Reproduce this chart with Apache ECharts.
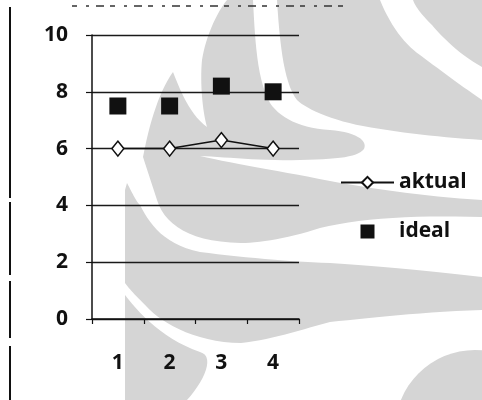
<!DOCTYPE html>
<html>
<head>
<meta charset="utf-8">
<script src="https://cdn.jsdelivr.net/npm/echarts@6/dist/echarts.min.js"></script>
<style>
  html, body { margin: 0; padding: 0; background: #ffffff; }
  #chart { width: 482px; height: 400px; }
</style>
</head>
<body>
<div id="chart"></div>
<script>
// Chart data
const categories = ['1', '2', '3', '4'];
const aktual = [6.0, 6.0, 6.3, 6.0];
const ideal = [7.5, 7.5, 8.2, 8.0];
const yTicks = [0, 2, 4, 6, 8, 10];

const FONT = "'Open Sans', 'DejaVu Sans', sans-serif";
const INK = '#111111';
const SHADE = '#d5d5d5';

// Turn a path description (start point + L / C segments) into polygon points
function outline(start, segs) {
  const pts = [start.slice()];
  let cur = start.slice();
  segs.forEach(s => {
    if (s[0] === 'L') {
      cur = [s[1], s[2]];
      pts.push(cur);
    } else {
      const [, x1, y1, x2, y2, x, y] = s;
      for (let i = 1; i <= 14; i++) {
        const t = i / 14, u = 1 - t;
        pts.push([
          u * u * u * cur[0] + 3 * u * u * t * x1 + 3 * u * t * t * x2 + t * t * t * x,
          u * u * u * cur[1] + 3 * u * u * t * y1 + 3 * u * t * t * y2 + t * t * t * y
        ]);
      }
      cur = [x, y];
    }
  });
  return pts;
}

// Faint background emblem behind the plot
const emblem = [
  // upper body, pointed tip and the band running under the legend
  outline([227, 0], [
    ['L', 253, 0],
    ['C', 255, 40, 257, 80, 270, 103],
    ['C', 280, 118, 300, 128, 330, 130],
    ['C', 355, 132, 368, 140, 364, 149],
    ['C', 358, 157, 340, 159, 300, 160],
    ['C', 260, 161, 225, 157, 200, 156],
    ['C', 230, 163, 280, 171, 330, 181],
    ['C', 380, 190, 430, 197, 482, 200],
    ['L', 482, 217],
    ['C', 420, 215, 360, 218, 320, 228],
    ['C', 290, 238, 260, 243, 241, 243],
    ['C', 190, 242, 165, 225, 157, 200],
    ['L', 143, 157],
    ['C', 150, 120, 160, 90, 173, 72],
    ['C', 180, 90, 190, 115, 207, 127],
    ['C', 202, 110, 200, 80, 202, 60],
    ['C', 205, 40, 215, 15, 227, 0]
  ]),
  // middle arc
  outline([277, 0], [
    ['L', 380, 0],
    ['C', 390, 25, 405, 45, 420, 55],
    ['C', 440, 70, 460, 85, 482, 100],
    ['L', 482, 140],
    ['C', 440, 137, 400, 133, 363, 126],
    ['C', 330, 120, 305, 108, 297, 100],
    ['C', 285, 85, 280, 50, 277, 0]
  ]),
  // outer arc in the corner
  outline([413, 0], [
    ['L', 482, 0],
    ['L', 482, 67],
    ['C', 460, 55, 442, 37, 432, 25],
    ['C', 422, 15, 416, 8, 413, 0]
  ]),
  // lower wave
  outline([127, 183], [
    ['C', 132, 192, 135, 200, 140, 205],
    ['C', 150, 225, 165, 245, 200, 252],
    ['C', 240, 257, 290, 262, 330, 263],
    ['C', 400, 268, 440, 272, 482, 277],
    ['L', 482, 310],
    ['C', 420, 312, 370, 318, 330, 322],
    ['C', 300, 330, 270, 340, 241, 343],
    ['C', 200, 343, 165, 325, 150, 310],
    ['C', 138, 298, 130, 290, 125, 283],
    ['L', 125, 190]
  ]),
  // bottom left foot
  outline([125, 295], [
    ['C', 140, 315, 165, 340, 200, 352],
    ['C', 215, 356, 205, 380, 187, 400],
    ['L', 125, 400]
  ])
];

const graphics = emblem.map(pts => ({
  type: 'polygon',
  z: -10,
  silent: true,
  shape: { points: pts },
  style: { fill: SHADE }
}));
graphics.push({
  type: 'circle', z: -10, silent: true,
  shape: { cx: 475, cy: 430, r: 80 },
  style: { fill: SHADE }
});
// page border on the left and the clipped text line at the top
[[7, 198], [202, 275], [281, 338], [346, 400]].forEach(([a, b]) => {
  graphics.push({
    type: 'line', z: 5, silent: true,
    shape: { x1: 10, y1: a, x2: 10, y2: b },
    style: { stroke: INK, lineWidth: 2 }
  });
});
graphics.push({
  type: 'line', z: 5, silent: true,
  shape: { x1: 72, y1: 6, x2: 352, y2: 6 },
  style: { stroke: '#333', lineWidth: 1.5, lineDash: [5, 9, 3, 7, 8, 6] }
});

const chart = echarts.init(document.getElementById('chart'), null, { renderer: 'canvas' });
chart.setOption({
  backgroundColor: '#ffffff',
  animation: false,
  graphic: graphics,
  grid: {
    left: 92, top: 35, right: 183, bottom: 81,
    containLabel: false, outerBoundsMode: 'none'
  },
  legend: {
    orient: 'vertical',
    left: 340, top: 172, padding: 0,
    itemWidth: 53, itemHeight: 14, itemGap: 28,
    textStyle: { fontFamily: FONT, fontSize: 21, fontWeight: 'bold', color: INK, lineHeight: 20 },
    data: [
      { name: 'aktual' },
      { name: 'ideal', icon: 'path://M0 0H10V10H0Z' }
    ]
  },
  xAxis: {
    type: 'category',
    data: categories,
    boundaryGap: true,
    axisLine: { lineStyle: { color: INK, width: 1.5 } },
    axisTick: { show: true, length: 5, lineStyle: { color: INK, width: 1.2 } },
    axisLabel: { fontFamily: FONT, fontSize: 21, fontWeight: 'bold', color: INK, margin: 34 },
    splitLine: { show: false }
  },
  yAxis: {
    type: 'value',
    min: yTicks[0], max: yTicks[yTicks.length - 1],
    interval: yTicks[1] - yTicks[0],
    axisLine: { show: true, lineStyle: { color: INK, width: 1.5 } },
    axisTick: { show: true, length: 6, lineStyle: { color: INK, width: 1.2 } },
    axisLabel: { fontFamily: FONT, fontSize: 21, fontWeight: 'bold', color: INK, margin: 24 },
    splitLine: { show: true, lineStyle: { color: '#1a1a1a', width: 1.3 } }
  },
  series: [
    {
      name: 'aktual',
      type: 'line',
      data: aktual,
      symbol: 'diamond',
      symbolSize: [12, 15],
      lineStyle: { color: INK, width: 1.5 },
      itemStyle: { color: '#ffffff', borderColor: INK, borderWidth: 1.5 },
      z: 3
    },
    {
      name: 'ideal',
      type: 'scatter',
      data: ideal,
      symbol: 'rect',
      symbolSize: 17,
      itemStyle: { color: INK, opacity: 1 },
      z: 4
    }
  ]
});
</script>
</body>
</html>
